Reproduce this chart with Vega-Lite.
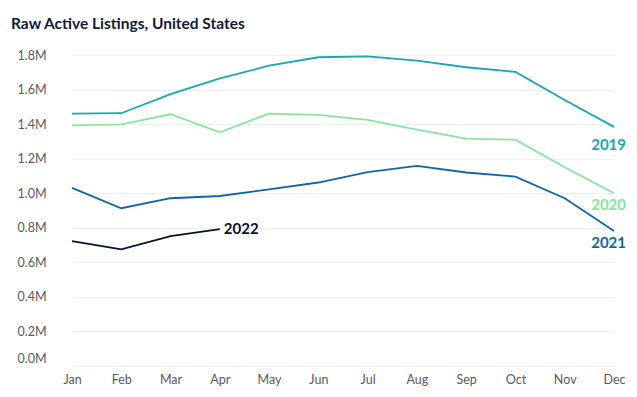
{
  "$schema": "https://vega.github.io/schema/vega-lite/v6.json",
  "width": 578,
  "height": 311,
  "autosize": {"type": "none"},
  "padding": {"left": 50, "top": 55, "right": 9, "bottom": 31},
  "background": "white",
  "title": {
    "text": "Raw Active Listings, United States",
    "anchor": "start",
    "frame": "group",
    "dx": -39,
    "offset": 17,
    "font": "Lato",
    "fontSize": 15.5,
    "fontWeight": "bold",
    "color": "#101a3c"
  },
  "config": {
    "view": {"stroke": null},
    "font": "Lato",
    "axis": {
      "domain": false,
      "ticks": false,
      "labelFont": "Lato",
      "labelFontSize": 12.5,
      "labelColor": "#5a5a5a",
      "title": null
    }
  },
  "data": {
    "values": [
      {"month": "Jan", "year": "2019", "value": 1461000},
      {"month": "Feb", "year": "2019", "value": 1463000},
      {"month": "Mar", "year": "2019", "value": 1573000},
      {"month": "Apr", "year": "2019", "value": 1665000},
      {"month": "May", "year": "2019", "value": 1738000},
      {"month": "Jun", "year": "2019", "value": 1787000},
      {"month": "Jul", "year": "2019", "value": 1792000},
      {"month": "Aug", "year": "2019", "value": 1767000},
      {"month": "Sep", "year": "2019", "value": 1729000},
      {"month": "Oct", "year": "2019", "value": 1702000},
      {"month": "Nov", "year": "2019", "value": 1540000},
      {"month": "Dec", "year": "2019", "value": 1384000},
      {"month": "Jan", "year": "2020", "value": 1393000},
      {"month": "Feb", "year": "2020", "value": 1399000},
      {"month": "Mar", "year": "2020", "value": 1457000},
      {"month": "Apr", "year": "2020", "value": 1353000},
      {"month": "May", "year": "2020", "value": 1461000},
      {"month": "Jun", "year": "2020", "value": 1453000},
      {"month": "Jul", "year": "2020", "value": 1424000},
      {"month": "Aug", "year": "2020", "value": 1368000},
      {"month": "Sep", "year": "2020", "value": 1316000},
      {"month": "Oct", "year": "2020", "value": 1310000},
      {"month": "Nov", "year": "2020", "value": 1150000},
      {"month": "Dec", "year": "2020", "value": 1000000},
      {"month": "Jan", "year": "2021", "value": 1031000},
      {"month": "Feb", "year": "2021", "value": 913000},
      {"month": "Mar", "year": "2021", "value": 971000},
      {"month": "Apr", "year": "2021", "value": 984000},
      {"month": "May", "year": "2021", "value": 1022000},
      {"month": "Jun", "year": "2021", "value": 1062000},
      {"month": "Jul", "year": "2021", "value": 1122000},
      {"month": "Aug", "year": "2021", "value": 1158000},
      {"month": "Sep", "year": "2021", "value": 1120000},
      {"month": "Oct", "year": "2021", "value": 1096000},
      {"month": "Nov", "year": "2021", "value": 971000},
      {"month": "Dec", "year": "2021", "value": 782000},
      {"month": "Jan", "year": "2022", "value": 723000},
      {"month": "Feb", "year": "2022", "value": 675000},
      {"month": "Mar", "year": "2022", "value": 752000},
      {"month": "Apr", "year": "2022", "value": 792000}
    ]
  },
  "encoding": {
    "x": {
      "field": "month",
      "type": "ordinal",
      "sort": ["Jan", "Feb", "Mar", "Apr", "May", "Jun", "Jul", "Aug", "Sep", "Oct", "Nov", "Dec"],
      "scale": {"type": "point", "range": [22, 564], "padding": 0},
      "axis": {"labelAngle": 0, "grid": false, "labelPadding": 7}
    },
    "y": {
      "field": "value",
      "type": "quantitative",
      "scale": {"domain": [0, 1800000], "nice": false},
      "axis": {
        "values": [0, 200000, 400000, 600000, 800000, 1000000, 1200000, 1400000, 1600000, 1800000],
        "labelExpr": "format(datum.value / 1000000, '.1f') + 'M'",
        "labelPadding": 4,
        "labelOffset": {"condition": {"test": "datum.value === 0", "value": -8}, "value": 0},
        "grid": true,
        "gridColor": "#efefef",
        "gridWidth": 1
      }
    },
    "color": {
      "field": "year",
      "type": "nominal",
      "scale": {"domain": ["2019", "2020", "2021", "2022"], "range": ["#17a8b4", "#88e59c", "#0e66a6", "#0b1030"]},
      "legend": null
    }
  },
  "layer": [
    {"mark": {"type": "line", "strokeWidth": 1.8}},
    {
      "transform": [{"filter": "datum.year === '2019' && datum.month === 'Dec'"}],
      "mark": {"type": "text", "align": "right", "baseline": "middle", "dx": 12, "dy": 18, "fontSize": 15, "fontWeight": "bold", "font": "Lato"},
      "encoding": {"text": {"field": "year"}}
    },
    {
      "transform": [{"filter": "datum.year === '2020' && datum.month === 'Dec'"}],
      "mark": {"type": "text", "align": "right", "baseline": "middle", "dx": 12, "dy": 12, "fontSize": 15, "fontWeight": "bold", "font": "Lato"},
      "encoding": {"text": {"field": "year"}}
    },
    {
      "transform": [{"filter": "datum.year === '2021' && datum.month === 'Dec'"}],
      "mark": {"type": "text", "align": "right", "baseline": "middle", "dx": 12, "dy": 12, "fontSize": 15, "fontWeight": "bold", "font": "Lato"},
      "encoding": {"text": {"field": "year"}}
    },
    {
      "transform": [{"filter": "datum.year === '2022' && datum.month === 'Apr'"}],
      "mark": {"type": "text", "align": "left", "baseline": "middle", "dx": 4, "dy": 0, "fontSize": 15, "fontWeight": "bold", "font": "Lato"},
      "encoding": {"text": {"field": "year"}}
    }
  ]
}
